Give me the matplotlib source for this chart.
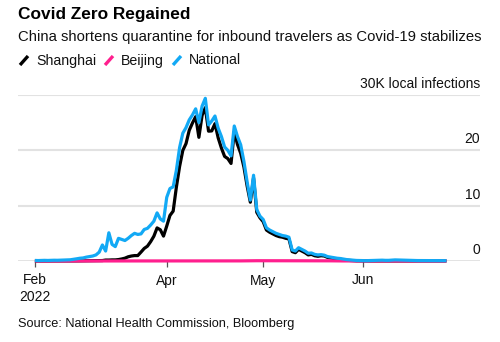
import matplotlib
matplotlib.use("Agg")
import matplotlib.pyplot as plt
import matplotlib.dates as mdates
import matplotlib.transforms as mtrans
from matplotlib.lines import Line2D
import numpy as np
import pandas as pd

plt.rcParams['font.family'] = ['Liberation Sans', 'DejaVu Sans']

# ---------------- data (thousands of local infections, daily) ----------------
start_date = "2022-02-19"
national = [
    0.10, 0.08, 0.10, 0.12, 0.10, 0.12, 0.14, 0.13, 0.15, 0.16,
    0.20, 0.22, 0.30, 0.40, 0.50, 0.55, 0.70, 0.80, 0.90, 1.10,
    1.60, 2.90, 1.80, 5.10, 3.00, 2.60, 4.10, 3.90, 3.70, 4.10,
    4.60, 5.00, 4.80, 4.90, 5.70, 5.90, 6.50, 7.20, 8.70, 7.60,
    7.20, 11.50, 13.10, 13.40, 16.40, 20.50, 23.10, 24.10, 25.50, 26.40,
    27.50, 25.00, 28.00, 29.40, 24.60, 25.30, 26.20, 24.00, 22.50, 20.60,
    20.00, 19.00, 24.40, 22.50, 21.00, 18.00, 14.30, 11.00, 15.50, 9.30,
    8.10, 7.50, 6.00, 5.60, 5.30, 5.00, 4.80, 4.60, 4.50, 4.30,
    2.00, 1.80, 2.40, 2.10, 1.80, 1.40, 1.45, 1.20, 1.10, 1.15,
    1.05, 0.80, 0.70, 0.60, 0.50, 0.45, 0.35, 0.25, 0.20, 0.15,
    0.10, 0.08, 0.06, 0.06, 0.08, 0.10, 0.12, 0.15, 0.15, 0.12,
    0.12, 0.15, 0.20, 0.18, 0.15, 0.12, 0.10, 0.10, 0.08, 0.08,
    0.08, 0.07, 0.07, 0.06, 0.06, 0.07, 0.07, 0.06, 0.06,
]
shanghai = [
    0.00, 0.00, 0.00, 0.00, 0.00, 0.00, 0.01, 0.01, 0.01, 0.01,
    0.00, 0.01, 0.01, 0.02, 0.03, 0.03, 0.05, 0.06, 0.07, 0.08,
    0.08, 0.08, 0.17, 0.17, 0.20, 0.20, 0.26, 0.37, 0.51, 0.76,
    0.90, 0.98, 0.98, 1.61, 2.27, 2.68, 3.50, 4.48, 5.98, 5.65,
    4.50, 6.31, 8.23, 9.01, 13.35, 17.08, 19.98, 21.22, 23.62, 24.94,
    26.09, 22.35, 26.33, 27.72, 23.46, 23.51, 24.82, 22.25, 20.42, 18.90,
    18.50, 17.63, 23.37, 21.06, 19.46, 16.98, 13.56, 10.62, 15.03, 8.80,
    7.80, 7.10, 5.60, 5.20, 4.90, 4.60, 4.40, 4.30, 4.10, 4.00,
    1.70, 1.50, 2.10, 1.80, 1.50, 1.10, 1.20, 0.95, 0.85, 0.95,
    0.90, 0.65, 0.55, 0.45, 0.38, 0.30, 0.22, 0.13, 0.09, 0.07,
    0.03, 0.02, 0.01, 0.01, 0.01, 0.01, 0.01, 0.01, 0.01, 0.01,
    0.01, 0.01, 0.01, 0.01, 0.01, 0.01, 0.01, 0.01, 0.01, 0.01,
    0.01, 0.01, 0.01, 0.01, 0.01, 0.01, 0.01, 0.01, 0.01,
]
beijing = [0.00] * 62 + [
    0.01, 0.02, 0.02, 0.03, 0.03, 0.04, 0.05, 0.05, 0.05, 0.06,
    0.05, 0.05, 0.06, 0.05, 0.05, 0.04, 0.05, 0.05, 0.05, 0.04,
    0.04, 0.05, 0.05, 0.04, 0.04, 0.05, 0.04, 0.04, 0.03, 0.03,
    0.03, 0.02, 0.02, 0.02, 0.01, 0.01, 0.01, 0.01, 0.01, 0.01,
    0.01, 0.00, 0.00, 0.00, 0.00, 0.00, 0.00, 0.00, 0.00, 0.00,
    0.00, 0.00, 0.00, 0.00, 0.00, 0.00, 0.00, 0.00, 0.00, 0.00,
    0.00, 0.00, 0.00, 0.00, 0.00, 0.00, 0.00,
]
series_names = ["Shanghai", "Beijing", "National"]
series_colors = ["#000000", "#ff1f8e", "#12a9f5"]
tick_dates = ["2022-02-19", "2022-04-01", "2022-05-01", "2022-06-01"]
tick_labels = ["Feb\n2022", "Apr", "May", "Jun"]
y_values = [0, 10, 20, 30]
y_labels = ["0", "10", "20", "30K local infections"]

title = "Covid Zero Regained"
subtitle = "China shortens quarantine for inbound travelers as Covid-19 stabilizes"
source = "Source: National Health Commission, Bloomberg"

# ---------------- figure ----------------
W, H = 500, 342
fig = plt.figure(figsize=(W / 100, H / 100), dpi=100)

def fx(px):
    return px / W

def fy(py):
    return 1 - py / H

ax_left, ax_right, ax_top, ax_bottom = 18, 480, 95, 261
ax = fig.add_axes([fx(ax_left), fy(ax_bottom), fx(ax_right - ax_left),
                   (ax_bottom - ax_top) / H])

dates = pd.date_range(start_date, periods=len(national), freq="D")
xnum = mdates.date2num(dates)

for vals, color in zip([shanghai, beijing, national], series_colors):
    ax.plot(xnum, vals, color=color, lw=2.3, solid_joinstyle="round",
            solid_capstyle="butt", clip_on=False, zorder=3)

x0 = mdates.date2num(pd.Timestamp("2022-02-13 18:00"))
x1 = mdates.date2num(pd.Timestamp("2022-07-07 10:00"))
ax.set_xlim(x0, x1)
ax.set_ylim(0, 30)

for s in ax.spines.values():
    s.set_visible(False)
ax.axhline(0, color="#222222", lw=0.9, zorder=2)

# horizontal gridlines
ax.set_yticks(y_values[1:])
ax.yaxis.grid(True, color="#e2e2e2", lw=1.5)
ax.set_axisbelow(True)
ax.tick_params(axis="y", length=0, labelleft=False, labelright=False)

trans = mtrans.blended_transform_factory(ax.transAxes, ax.transData)
for v, lab in zip(y_values, y_labels):
    ax.text(1.0, v + 1.25, lab, transform=trans, ha="right", va="baseline",
            fontsize=10, color="#111111")

ax.set_xticks(mdates.date2num(pd.to_datetime(tick_dates)))
ax.set_xticklabels(tick_labels, fontsize=10, color="#111111",
                   linespacing=1.25)
ax.tick_params(axis="x", length=4, width=0.9, color="#555555", pad=5)

# ---------------- texts ----------------
fig.text(fx(18), fy(19.5), title, fontsize=12.4, fontweight="bold",
         ha="left", va="baseline", color="#000000")
fig.text(fx(18), fy(41.5), subtitle, fontsize=10.75, ha="left",
         va="baseline", color="#111111")
fig.text(fx(18), fy(327), source, fontsize=9.2, ha="left", va="baseline",
         color="#111111")

# legend
leg_x = [19, 104, 172]
for lx, name, color in zip(leg_x, series_names, series_colors):
    fig.add_artist(Line2D([fx(lx + 1), fx(lx + 9)], [fy(65), fy(56)],
                          transform=fig.transFigure, color=color, lw=2.4,
                          solid_capstyle="butt"))
    fig.text(fx(lx + 17), fy(64.5), name, fontsize=10.2, ha="left",
             va="baseline", color="#111111")

fig.savefig("out.png", dpi=100)
